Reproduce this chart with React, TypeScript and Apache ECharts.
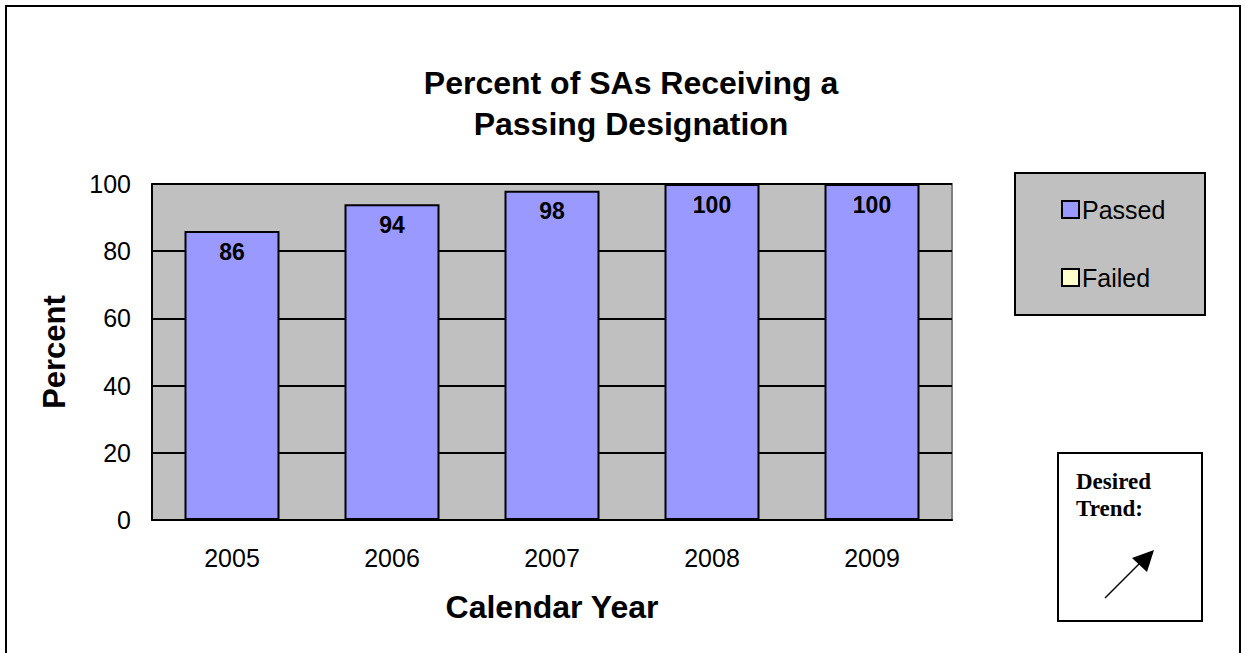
import React, { useEffect, useRef } from "react";
import * as echarts from "echarts";

const years = ["2005", "2006", "2007", "2008", "2009"];
const passedValues = [86, 94, 98, 100, 100];
const failedValues: (number | null)[] = [null, null, null, null, null];
const titleText = "Percent of SAs Receiving a\nPassing Designation";

export default function App() {
  const ref = useRef<HTMLDivElement>(null);
  useEffect(() => {
    document.body.style.margin = "0";
    const chart = echarts.init(ref.current!, null, { renderer: "svg" });
    const font = "Liberation Sans, Arial, sans-serif";
    chart.setOption({
      animation: false,
      backgroundColor: "#ffffff",
      title: {
        text: titleText,
        left: 626,
        textAlign: "center",
        top: 57,
        textStyle: { fontFamily: font, fontSize: 32, fontWeight: "bold", color: "#000", lineHeight: 41 },
      },
      legend: {
        orient: "vertical",
        left: 1056,
        top: 192,
        itemGap: 43,
        itemWidth: 17,
        itemHeight: 17,
        icon: "rect",
        textStyle: { fontFamily: font, fontSize: 25, color: "#000", padding: [0, 0, 0, -2] },
        data: ["Passed", "Failed"],
      },
      grid: {
        left: 152,
        top: 184,
        width: 800,
        height: 336,
        show: true,
        backgroundColor: "#C0C0C0",
        borderColor: "#808080",
        borderWidth: 2,
      },
      xAxis: {
        type: "category",
        data: years,
        name: "Calendar Year",
        nameLocation: "middle",
        nameGap: 71,
        nameTextStyle: { fontFamily: font, fontSize: 32, fontWeight: "bold", color: "#000" },
        axisLine: { lineStyle: { color: "#000", width: 2 } },
        axisTick: { show: false },
        axisLabel: { fontFamily: font, fontSize: 25, color: "#000", margin: 25 },
      },
      yAxis: {
        type: "value",
        min: 0,
        max: 100,
        interval: 20,
        name: "Percent",
        nameLocation: "middle",
        nameGap: 82,
        nameTextStyle: { fontFamily: font, fontSize: 31, fontWeight: "bold", color: "#000" },
        axisLine: { show: true, lineStyle: { color: "#000", width: 2 } },
        axisTick: { show: true, length: 0 },
        axisLabel: { fontFamily: font, fontSize: 25, color: "#000", margin: 21 },
        splitLine: { show: true, lineStyle: { color: "#000", width: 2 } },
      },
      series: [
        {
          name: "Passed",
          type: "bar",
          stack: "total",
          data: passedValues,
          barWidth: 95,
          itemStyle: { color: "#9999FF", borderColor: "#000", borderWidth: 2 },
          label: {
            show: true,
            position: "insideTop",
            distance: 9,
            fontFamily: font,
            fontSize: 23,
            fontWeight: "bold",
            color: "#000",
          },
          z: 3,
        },
        {
          name: "Failed",
          type: "bar",
          stack: "total",
          data: failedValues,
          barWidth: 95,
          itemStyle: { color: "#FFFFCC", borderColor: "#000", borderWidth: 2 },
        },
      ],
      graphic: [
        {
          type: "rect",
          shape: { x: 6, y: 6, width: 1234, height: 660 },
          style: { fill: "none", stroke: "#000", lineWidth: 2 },
          silent: true,
          z: 100,
        },
        {
          type: "rect",
          shape: { x: 1015, y: 173, width: 190, height: 142 },
          style: { fill: "#C0C0C0", stroke: "#000", lineWidth: 2 },
          silent: true,
          z: -10,
        },
        {
          type: "rect",
          shape: { x: 1058, y: 453, width: 144, height: 168 },
          style: { fill: "#fff", stroke: "#000", lineWidth: 2 },
          silent: true,
        },
        {
          type: "text",
          x: 1076,
          y: 468,
          style: {
            text: "Desired\nTrend:",
            fontFamily: "Liberation Serif, Times New Roman, serif",
            fontSize: 23,
            fontWeight: "bold",
            lineHeight: 27,
            fill: "#000",
          },
          silent: true,
        },
        {
          type: "line",
          shape: { x1: 1105, y1: 598, x2: 1143, y2: 560 },
          style: { stroke: "#000", lineWidth: 1.5 },
          silent: true,
        },
        {
          type: "polygon",
          shape: { points: [[1154, 550], [1132, 558], [1147, 572]] },
          style: { fill: "#000" },
          silent: true,
        },
      ],
    });
    return () => chart.dispose();
  }, []);
  return <div ref={ref} style={{ width: 1245, height: 653 }} />;
}
